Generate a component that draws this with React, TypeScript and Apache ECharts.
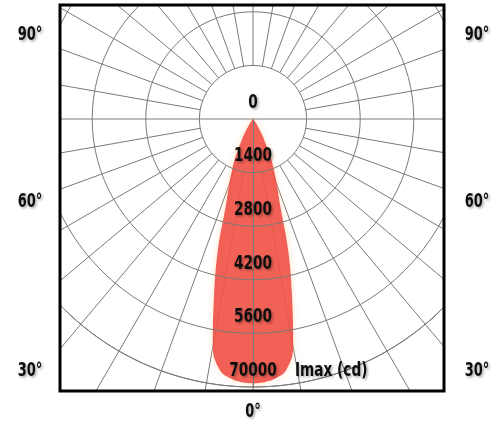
import React, { useEffect, useRef } from "react";
import * as echarts from "echarts";

// ---- data ----
const gammaDeg = [0, 2.5, 5, 7.5, 10, 12.5, 15, 17.5, 20, 22.5, 25, 27.5, 30, 35, 40, 45];
const intensityC0 = [6900, 6880, 6800, 6620, 6050, 4700, 3550, 2350, 1830, 1420, 1080, 700, 480, 180, 60, 0];
const intensityC180 = [6900, 6880, 6800, 6620, 6050, 4700, 3550, 2350, 1830, 1420, 1080, 700, 480, 180, 60, 0];

const radiusTicks = [0, 1400, 2800, 4200, 5600, 7000];
const radiusTickLabels = ["0", "1400", "2800", "4200", "5600", "70000"];
const sideAngleLabels = ["90°", "60°", "30°"];
const bottomAngleLabel = "0°";
const unitLabel = "Imax (cd)";

// ---- layout ----
const W = 504;
const H = 425;
const CX = 253;
const CY = 119;
const R_MAX = 268;
const R_INNER = 53.6;
const R_SPOKE = 345;
const BOX = { x: 60, y: 5, w: 384, h: 386 };
const SIDE_LABEL_Y = [33, 200, 369];
const LEFT_LABEL_X = 30;
const RIGHT_LABEL_X = 477;
const LABEL_LIFT = 18;
const SQUEEZE = 0.76;

const FONT = "'DejaVu Sans Condensed', 'DejaVu Sans', sans-serif";
const GRID = { color: "#7a7a7a", width: 1 };

const textShadow = {
  textShadowColor: "rgba(0,0,0,0.35)",
  textShadowBlur: 2,
  textShadowOffsetX: 1.5,
  textShadowOffsetY: 1.5,
};

function label(text: string, x: number, y: number, size: number, align = "center") {
  return {
    type: "text",
    x,
    y,
    scaleX: SQUEEZE,
    style: {
      text,
      font: `bold ${size}px ${FONT}`,
      fill: "#111",
      textAlign: align,
      textVerticalAlign: "middle",
      ...textShadow,
    },
    z: 12,
  };
}

export default function App() {
  const ref = useRef<HTMLDivElement>(null);

  useEffect(() => {
    if (!ref.current) return;
    const chart = echarts.init(ref.current, undefined, { renderer: "svg" });

    const curve: [number, number][] = [];
    for (let i = gammaDeg.length - 1; i > 0; i--) {
      curve.push([intensityC180[i], 360 - gammaDeg[i]]);
    }
    for (let i = 0; i < gammaDeg.length; i++) {
      curve.push([intensityC0[i], gammaDeg[i]]);
    }

    const graphics: any[] = [
      {
        type: "line",
        shape: { x1: CX - R_INNER, y1: CY, x2: CX + R_INNER, y2: CY },
        style: { stroke: GRID.color, lineWidth: GRID.width },
        z: 1,
      },
      { type: "rect", shape: { x: 0, y: 0, width: BOX.x, height: H }, style: { fill: "#fff" }, z: 10 },
      { type: "rect", shape: { x: BOX.x + BOX.w, y: 0, width: W - BOX.x - BOX.w, height: H }, style: { fill: "#fff" }, z: 10 },
      { type: "rect", shape: { x: 0, y: 0, width: W, height: BOX.y }, style: { fill: "#fff" }, z: 10 },
      { type: "rect", shape: { x: 0, y: BOX.y + BOX.h, width: W, height: H - BOX.y - BOX.h }, style: { fill: "#fff" }, z: 10 },
      {
        type: "rect",
        shape: { x: BOX.x, y: BOX.y, width: BOX.w, height: BOX.h },
        style: { fill: "none", stroke: "#000", lineWidth: 3 },
        z: 11,
      },
      label(bottomAngleLabel, CX, 410, 19),
    ];
    sideAngleLabels.forEach((t, i) => {
      graphics.push(label(t, LEFT_LABEL_X, SIDE_LABEL_Y[i], 19));
      graphics.push(label(t, RIGHT_LABEL_X, SIDE_LABEL_Y[i], 19));
    });

    chart.setOption({
      animation: false,
      backgroundColor: "#fff",
      polar: [
        { center: [CX, CY], radius: [0, R_MAX] },
        { center: [CX, CY], radius: [R_INNER, R_SPOKE] },
      ],
      angleAxis: [
        {
          polarIndex: 0,
          type: "value",
          min: 0,
          max: 360,
          interval: 10,
          startAngle: 270,
          axisLine: { show: true, lineStyle: GRID },
          axisTick: { show: false },
          axisLabel: { show: false },
          splitLine: { show: false },
          z: 0,
        },
        {
          polarIndex: 1,
          type: "value",
          min: 0,
          max: 360,
          interval: 10,
          startAngle: 270,
          axisLine: { show: false },
          axisTick: { show: false },
          axisLabel: { show: false },
          splitLine: { show: true, lineStyle: GRID },
          z: 0,
        },
      ],
      radiusAxis: [
        {
          polarIndex: 0,
          type: "value",
          min: 0,
          max: 7000,
          interval: 1400,
          axisLine: { show: true, lineStyle: GRID },
          axisTick: { show: false },
          splitLine: { show: true, lineStyle: GRID },
          axisLabel: { show: false },
          z: 3,
        },
        {
          polarIndex: 1,
          type: "value",
          min: 0,
          max: 7000,
          show: false,
        },
      ],
      series: [
        {
          type: "line",
          coordinateSystem: "polar",
          polarIndex: 0,
          data: curve,
          smooth: 0.4,
          showSymbol: false,
          lineStyle: { width: 0 },
          areaStyle: {
            color: "#f03c3c",
            opacity: 0.85,
            shadowColor: "rgba(255,200,140,0.6)",
            shadowBlur: 6,
          },
          z: 2,
        },
      ],
      graphic: graphics,
    });

    // radius tick labels placed through the polar scale
    const tickGraphics: any[] = [];
    radiusTicks.forEach((v, i) => {
      const p = chart.convertToPixel({ polarIndex: 0 } as any, [v, 0]) as number[];
      if (p) tickGraphics.push(label(radiusTickLabels[i], p[0], p[1] - LABEL_LIFT, 20));
    });
    const last = chart.convertToPixel({ polarIndex: 0 } as any, [radiusTicks[radiusTicks.length - 1], 0]) as number[];
    if (last) tickGraphics.push(label(unitLabel, last[0] + 42, last[1] - LABEL_LIFT, 20, "left"));
    chart.setOption({ graphic: graphics.concat(tickGraphics) });

    return () => chart.dispose();
  }, []);

  return (
    <div
      ref={ref}
      style={{ position: "fixed", left: 0, top: 0, width: W, height: H }}
    />
  );
}
